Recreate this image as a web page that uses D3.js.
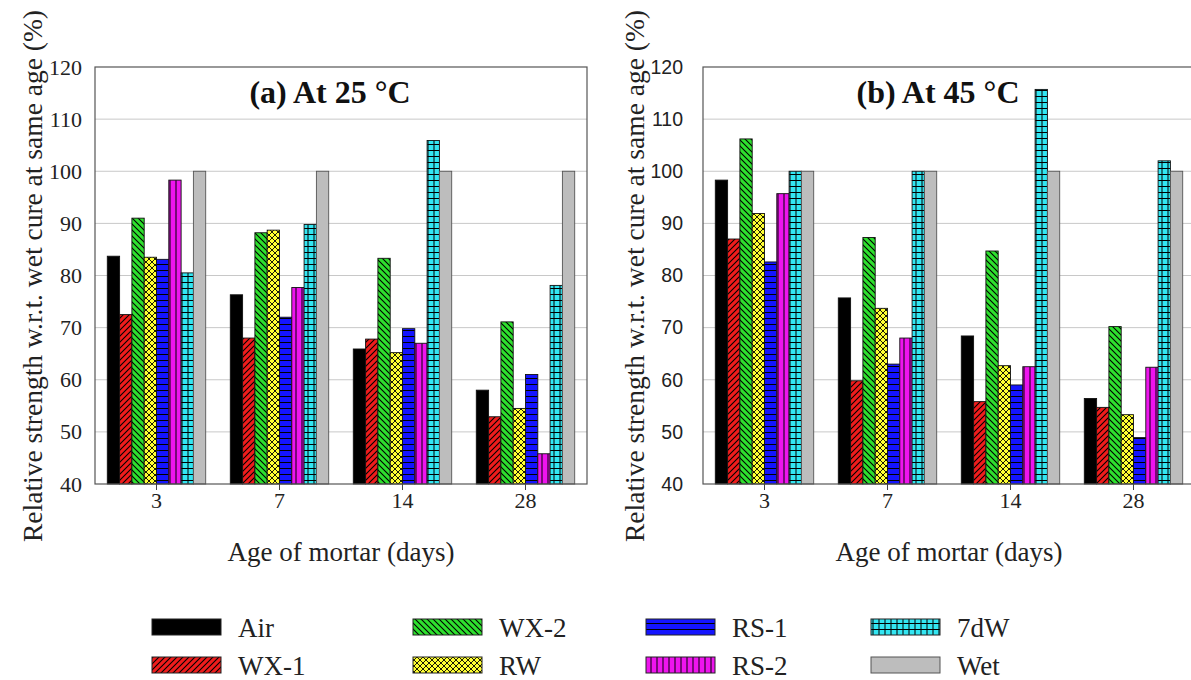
<!DOCTYPE html>
<html>
<head>
<meta charset="utf-8">
<script src="https://cdn.jsdelivr.net/npm/d3@7"></script>
<style>
  body { margin: 0; background: #fff; }
  svg { display: block; }
</style>
</head>
<body>
<div id="chart"></div>
<script>
// ages (categories) and series names
const ages = ["3", "7", "14", "28"];
const series = ["Air", "WX-1", "WX-2", "RW", "RS-1", "RS-2", "7dW", "Wet"];
const yTicks = [40, 50, 60, 70, 80, 90, 100, 110, 120];

// (a) At 25 °C
const airA = [83.7, 76.3, 65.9, 58.0];
const wx1A = [72.5, 68.0, 67.8, 52.9];
const wx2A = [91.0, 88.2, 83.3, 71.1];
const rwA  = [83.5, 88.7, 65.2, 54.5];
const rs1A = [83.1, 72.0, 69.8, 61.0];
const rs2A = [98.3, 77.7, 67.0, 45.8];
const dwA  = [80.5, 89.8, 105.9, 78.1];
const wetA = [100, 100, 100, 100];

// (b) At 45 °C
const airB = [98.3, 75.7, 68.4, 56.4];
const wx1B = [87.0, 59.8, 55.8, 54.7];
const wx2B = [106.2, 87.3, 84.7, 70.2];
const rwB  = [91.9, 73.7, 62.7, 53.3];
const rs1B = [82.6, 63.0, 59.0, 48.9];
const rs2B = [95.7, 68.0, 62.5, 62.4];
const dwB  = [100, 100, 115.7, 102.0];
const wetB = [100, 100, 100, 100];

const SERIF = "'Liberation Serif', 'Times New Roman', Times, serif";
const SANS = "'Liberation Sans', Arial, Helvetica, sans-serif";

const W = 1191, H = 680;
const svg = d3.select("#chart").append("svg")
    .attr("width", W).attr("height", H);

// hatch patterns
const defs = svg.append("defs");
function pattern(id, bg, draw) {
    const p = defs.append("pattern")
        .attr("id", id)
        .attr("patternUnits", "userSpaceOnUse")
        .attr("width", 6).attr("height", 6);
    p.append("rect").attr("width", 6).attr("height", 6).attr("fill", bg);
    draw(p);
}
const ln = (p, d, w) => p.append("path").attr("d", d)
    .attr("stroke", "#000").attr("stroke-width", w || 1).attr("fill", "none");

pattern("p-air", "#000", p => {});
pattern("p-wx1", "#f01c1c", p => ln(p, "M-1,1 L1,-1 M0,6 L6,0 M5,7 L7,5", 1.1));
pattern("p-wx2", "#2ee02e", p => ln(p, "M-1,5 L1,7 M0,0 L6,6 M5,-1 L7,1", 1.1));
pattern("p-rw", "#ffff33", p => {
    ln(p, "M-1,1 L1,-1 M0,6 L6,0 M5,7 L7,5", 0.9);
    ln(p, "M-1,5 L1,7 M0,0 L6,6 M5,-1 L7,1", 0.9);
});
pattern("p-rs1", "#1414ff", p => ln(p, "M0,5.5 L6,5.5", 1));
pattern("p-rs2", "#ee14ee", p => ln(p, "M3,0 L3,6", 1));
pattern("p-dw", "#33e6f2", p => ln(p, "M0,5.5 L6,5.5 M3,0 L3,6", 1));
pattern("p-wet", "#bdbdbd", p => {});

const fills = ["url(#p-air)", "url(#p-wx1)", "url(#p-wx2)", "url(#p-rw)",
               "url(#p-rs1)", "url(#p-rs2)", "url(#p-dw)", "url(#p-wet)"];

const margin = {top: 67, bottom: 196};
const pw = 492, ph = H - margin.top - margin.bottom;

function drawPanel(left, title, values, tickFont, tickSize, tickDx, labelX) {
    const g = svg.append("g").attr("transform", `translate(${left},${margin.top})`);

    const x0 = d3.scaleBand().domain(ages).range([0, pw]).padding(0);
    const x1 = d3.scaleBand().domain(series)
        .range([x0.bandwidth() * 0.1, x0.bandwidth() * 0.9]).padding(0);
    const y = d3.scaleLinear().domain([40, 120]).range([ph, 0]);

    // gridlines
    g.append("g")
        .selectAll("line")
        .data(yTicks.slice(1, -1))
        .join("line")
        .attr("x1", 0).attr("x2", pw)
        .attr("y1", d => y(d)).attr("y2", d => y(d))
        .attr("stroke", "#c8c8c8").attr("stroke-width", 1);

    // bars
    ages.forEach((a, i) => {
        g.append("g")
            .selectAll("rect")
            .data(series.map((s, k) => ({s: s, v: values[k][i], k: k})))
            .join("rect")
            .attr("x", d => x0(a) + x1(d.s))
            .attr("y", d => y(d.v))
            .attr("width", x1.bandwidth())
            .attr("height", d => y(40) - y(d.v))
            .attr("fill", d => fills[d.k])
            .attr("stroke", d => d.k === 7 ? "#555" : "#111")
            .attr("stroke-width", 0.9);
    });

    // frame
    g.append("rect")
        .attr("width", pw).attr("height", ph)
        .attr("fill", "none").attr("stroke", "#555").attr("stroke-width", 1.2);

    // y axis
    const ya = g.append("g")
        .call(d3.axisLeft(y).tickValues(yTicks).tickSize(0).tickPadding(tickDx));
    ya.select(".domain").remove();
    ya.selectAll("text")
        .attr("font-family", tickFont)
        .attr("font-size", tickSize)
        .attr("fill", "#222");

    // x axis
    const xa = g.append("g")
        .attr("transform", `translate(0,${ph})`)
        .call(d3.axisBottom(x0).tickSize(6).tickPadding(2));
    xa.select(".domain").remove();
    xa.selectAll("line").attr("stroke", "#444");
    xa.selectAll("text")
        .attr("font-family", SERIF)
        .attr("font-size", 22)
        .attr("fill", "#222");

    // title
    g.append("text")
        .attr("x", 235)
        .attr("y", 36)
        .attr("text-anchor", "middle")
        .attr("font-family", SERIF)
        .attr("font-weight", "bold")
        .attr("font-size", 32)
        .attr("fill", "#111")
        .text(title);

    // x axis label
    g.append("text")
        .attr("x", pw / 2)
        .attr("y", ph + 77)
        .attr("text-anchor", "middle")
        .attr("font-family", SERIF)
        .attr("font-size", 27)
        .attr("fill", "#222")
        .text("Age of mortar (days)");

    // y axis label
    g.append("text")
        .attr("transform", "rotate(-90)")
        .attr("x", -(276 - margin.top))
        .attr("y", labelX - left)
        .attr("text-anchor", "middle")
        .attr("font-family", SERIF)
        .attr("font-size", 27.5)
        .attr("fill", "#222")
        .text("Relative strength w.r.t. wet cure at same age (%)");
}

drawPanel(95, "(a) At 25 °C",
    [airA, wx1A, wx2A, rwA, rs1A, rs2A, dwA, wetA], SERIF, 22, 13, 42);
drawPanel(703, "(b) At 45 °C",
    [airB, wx1B, wx2B, rwB, rs1B, rs2B, dwB, wetB], SANS, 19.5, 20, 644);

// legend
const legendCols = [152, 413, 646, 871];
const legend = svg.append("g");
series.forEach((s, k) => {
    const cx = legendCols[Math.floor(k / 2)];
    const cy = 619 + (k % 2) * 38;
    legend.append("rect")
        .attr("x", cx).attr("y", cy)
        .attr("width", 69).attr("height", 16)
        .attr("fill", fills[k])
        .attr("stroke", k === 7 ? "#555" : "#222")
        .attr("stroke-width", 1);
    legend.append("text")
        .attr("x", cx + 86)
        .attr("y", cy + 17.5)
        .attr("font-family", SERIF)
        .attr("font-size", 27)
        .attr("fill", "#222")
        .text(s);
});
</script>
</body>
</html>
